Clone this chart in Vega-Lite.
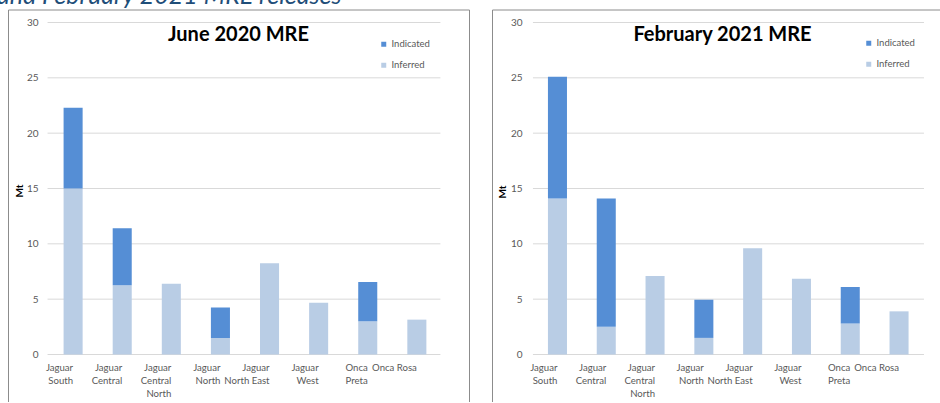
{
  "$schema": "https://vega.github.io/schema/vega-lite/v6.json",
  "padding": {"left": -3, "top": -16.5, "right": -1, "bottom": -8.5},
  "title": {"text": "and February 2021 MRE releases", "anchor": "start", "frame": "group", "dx": -11, "offset": -19.5, "baseline": "alphabetic", "font": "Lato", "fontStyle": "italic", "fontWeight": "normal", "fontSize": 25, "color": "#1F4E79"},
  "spacing": 21,
  "datasets": {
    "grid": [{"v": 0}, {"v": 5}, {"v": 10}, {"v": 15}, {"v": 20}, {"v": 25}, {"v": 30}],
    "june": [
      {"mine": "Jaguar South", "category": "Inferred", "value": 15.0},
      {"mine": "Jaguar South", "category": "Indicated", "value": 7.3},
      {"mine": "Jaguar Central", "category": "Inferred", "value": 6.25},
      {"mine": "Jaguar Central", "category": "Indicated", "value": 5.15},
      {"mine": "Jaguar Central North", "category": "Inferred", "value": 6.4},
      {"mine": "Jaguar North", "category": "Inferred", "value": 1.5},
      {"mine": "Jaguar North", "category": "Indicated", "value": 2.75},
      {"mine": "Jaguar North East", "category": "Inferred", "value": 8.25},
      {"mine": "Jaguar West", "category": "Inferred", "value": 4.67},
      {"mine": "Onca Preta", "category": "Inferred", "value": 3.0},
      {"mine": "Onca Preta", "category": "Indicated", "value": 3.55},
      {"mine": "Onca Rosa", "category": "Inferred", "value": 3.15}
    ],
    "feb": [
      {"mine": "Jaguar South", "category": "Inferred", "value": 14.1},
      {"mine": "Jaguar South", "category": "Indicated", "value": 11.0},
      {"mine": "Jaguar Central", "category": "Inferred", "value": 2.5},
      {"mine": "Jaguar Central", "category": "Indicated", "value": 11.6},
      {"mine": "Jaguar Central North", "category": "Inferred", "value": 7.1},
      {"mine": "Jaguar North", "category": "Inferred", "value": 1.5},
      {"mine": "Jaguar North", "category": "Indicated", "value": 3.45},
      {"mine": "Jaguar North East", "category": "Inferred", "value": 9.6},
      {"mine": "Jaguar West", "category": "Inferred", "value": 6.85},
      {"mine": "Onca Preta", "category": "Inferred", "value": 2.8},
      {"mine": "Onca Preta", "category": "Indicated", "value": 3.3},
      {"mine": "Onca Rosa", "category": "Inferred", "value": 3.9}
    ]
  },
  "hconcat": [
    {
      "width": 461,
      "height": 400,
      "title": {"text": "June 2020 MRE", "frame": "group", "anchor": "middle", "offset": -51, "baseline": "alphabetic", "font": "Lato", "fontSize": 20, "fontWeight": "bold", "color": "#000000"},
      "layer": [
        {
          "data": {"name": "grid"},
          "mark": {"type": "rule", "color": "#d9d9d9", "strokeWidth": 1},
          "encoding": {
            "y": {"field": "v", "type": "quantitative"},
            "x": {"datum": "Jaguar South", "type": "nominal", "bandPosition": -0.842},
            "x2": {"datum": "Onca Rosa", "bandPosition": 1.737}
          }
        },
        {
          "data": {"name": "june"},
          "mark": {"type": "bar"},
          "encoding": {
            "x": {
              "field": "mine", "type": "nominal",
              "scale": {"domain": ["Jaguar South", "Jaguar Central", "Jaguar Central North", "Jaguar North", "Jaguar North East", "Jaguar West", "Onca Preta", "Onca Rosa"], "paddingInner": 0.6122, "paddingOuter": 1.01, "align": 0.566},
              "axis": {"title": null, "offset": -55, "labelAngle": 0, "domain": false, "ticks": false, "tickSize": 0, "grid": false, "labelPadding": 8, "labelBaseline": "top", "labelLineHeight": 13, "labelFontSize": 9.6, "labelColor": "#595959", "labelFont": "Lato",
                "labelExpr": "datum.label == 'Jaguar Central North' ? ['Jaguar','Central','North'] : datum.label == 'Jaguar North East' ? ['Jaguar','North East'] : datum.label == 'Onca Rosa' ? 'Onca Rosa' : split(datum.label, ' ')"}
            },
            "y": {
              "field": "value", "type": "quantitative", "stack": "zero",
              "scale": {"domain": [-4.97, 31.175], "nice": false, "zero": false},
              "axis": {"values": [0, 5, 10, 15, 20, 25, 30], "title": "Mt", "titleX": -29, "titleY": 181, "titleAngle": -90, "titleBaseline": "middle", "titleAlign": "center", "titleFontWeight": "bold", "titleFontSize": 10, "titleColor": "#000000", "titleFont": "Lato", "offset": -40, "grid": false, "domain": false, "ticks": false, "tickSize": 0, "labelPadding": 10, "labelColor": "#595959", "labelFontSize": 10, "labelFont": "Lato"}
            },
            "color": {
              "field": "category", "type": "nominal",
              "scale": {"domain": ["Indicated", "Inferred"], "range": ["#558ED5", "#B9CDE5"]},
              "legend": {"orient": "none", "legendX": 371, "legendY": 30, "title": null, "symbolType": "square", "symbolSize": 25, "symbolStrokeWidth": 0, "labelFontSize": 9.5, "labelColor": "#595959", "labelFont": "Lato", "rowPadding": 10, "labelOffset": 3, "padding": 0}
            },
            "order": {"field": "category", "sort": "descending"}
          }
        }
      ]
    },
    {
      "width": 451,
      "height": 400,
      "title": {"text": "February 2021 MRE", "frame": "group", "anchor": "middle", "dx": 5, "offset": -51, "baseline": "alphabetic", "font": "Lato", "fontSize": 20, "fontWeight": "bold", "color": "#000000"},
      "layer": [
        {
          "data": {"name": "grid"},
          "mark": {"type": "rule", "color": "#d9d9d9", "strokeWidth": 1},
          "encoding": {
            "y": {"field": "v", "type": "quantitative"},
            "x": {"datum": "Jaguar South", "type": "nominal", "bandPosition": -0.788},
            "x2": {"datum": "Onca Rosa", "bandPosition": 1.81}
          }
        },
        {
          "data": {"name": "feb"},
          "mark": {"type": "bar"},
          "encoding": {
            "x": {
              "field": "mine", "type": "nominal",
              "scale": {"domain": ["Jaguar South", "Jaguar Central", "Jaguar Central North", "Jaguar North", "Jaguar North East", "Jaguar West", "Onca Preta", "Onca Rosa"], "paddingInner": 0.61, "paddingOuter": 0.926, "align": 0.619},
              "axis": {"title": null, "offset": -55, "labelAngle": 0, "domain": false, "ticks": false, "tickSize": 0, "grid": false, "labelPadding": 8, "labelBaseline": "top", "labelLineHeight": 13, "labelFontSize": 9.6, "labelColor": "#595959", "labelFont": "Lato",
                "labelExpr": "datum.label == 'Jaguar Central North' ? ['Jaguar','Central','North'] : datum.label == 'Jaguar North East' ? ['Jaguar','North East'] : datum.label == 'Onca Rosa' ? 'Onca Rosa' : split(datum.label, ' ')"}
            },
            "y": {
              "field": "value", "type": "quantitative", "stack": "zero",
              "scale": {"domain": [-4.97, 31.175], "nice": false, "zero": false},
              "axis": {"values": [0, 5, 10, 15, 20, 25, 30], "title": "Mt", "titleX": -31, "titleY": 182, "titleAngle": -90, "titleBaseline": "middle", "titleAlign": "center", "titleFontWeight": "bold", "titleFontSize": 10, "titleColor": "#000000", "titleFont": "Lato", "offset": -41, "grid": false, "domain": false, "ticks": false, "tickSize": 0, "labelPadding": 11, "labelColor": "#595959", "labelFontSize": 10, "labelFont": "Lato"}
            },
            "color": {
              "field": "category", "type": "nominal",
              "scale": {"domain": ["Indicated", "Inferred"], "range": ["#558ED5", "#B9CDE5"]},
              "legend": {"orient": "none", "legendX": 372, "legendY": 29, "title": null, "symbolType": "square", "symbolSize": 25, "symbolStrokeWidth": 0, "labelFontSize": 9.5, "labelColor": "#595959", "labelFont": "Lato", "rowPadding": 10, "labelOffset": 3, "padding": 0}
            },
            "order": {"field": "category", "sort": "descending"}
          }
        }
      ]
    }
  ],
  "resolve": {"legend": {"color": "independent"}},
  "config": {
    "view": {"stroke": "#8c8c8c", "strokeWidth": 1},
    "font": "Lato",
    "bar": {"strokeWidth": 0}
  }
}
